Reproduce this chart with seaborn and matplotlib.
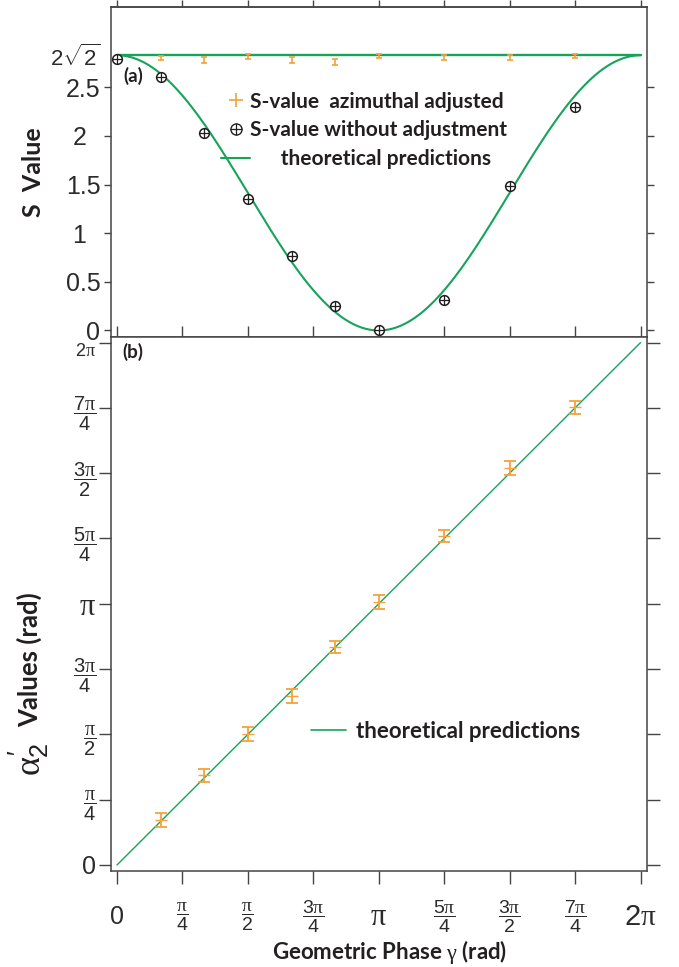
import numpy as np
import pandas as pd
import matplotlib
matplotlib.use("Agg")
import matplotlib.pyplot as plt
import seaborn as sns
from matplotlib.lines import Line2D
from matplotlib.legend_handler import HandlerTuple

# data
gamma_s = np.array([0, 1/6, 1/3, 1/2, 2/3, 5/6, 1, 5/4, 3/2, 7/4]) * np.pi
s_raw = [2.79, 2.61, 2.03, 1.35, 0.77, 0.25, 0.00, 0.31, 1.48, 2.30]

gamma_adj = np.array([1/6, 1/3, 1/2, 2/3, 5/6, 1, 5/4, 3/2, 7/4]) * np.pi
s_adj = [2.80, 2.78, 2.82, 2.78, 2.76, 2.82, 2.81, 2.81, 2.82]
s_adj_err = [0.025, 0.03, 0.025, 0.03, 0.03, 0.02, 0.025, 0.025, 0.02]

alpha_vals = [0.54, 1.08, 1.575, 2.03, 2.62, 3.167, 3.96, 4.77, 5.505]
alpha_err = [0.085, 0.08, 0.085, 0.085, 0.075, 0.085, 0.07, 0.085, 0.075]

s_ticks = [0, 0.5, 1, 1.5, 2, 2.5, 2 * np.sqrt(2)]
s_ticklabels = ["0", "0.5", "1  ", "1.5", "2  ", "2.5", r"$2\sqrt{2}$"]
pi_ticks = np.arange(9) * np.pi / 4
pi_ticklabels = ["0", r"$\dfrac{\pi}{4}$", r"$\dfrac{\pi}{2}$", r"$\dfrac{3\pi}{4}$", r"$\pi$",
                 r"$\dfrac{5\pi}{4}$", r"$\dfrac{3\pi}{2}$", r"$\dfrac{7\pi}{4}$", r"$2\pi$"]

# theory curves
g = np.linspace(0, 2 * np.pi, 400)
theory = pd.DataFrame({"g": g, "S": np.sqrt(2) * (1 + np.cos(g)),
                       "flat": np.full_like(g, 2 * np.sqrt(2)), "alpha": g})

sns.set_theme(style="ticks")
plt.rcParams["font.family"] = ["Liberation Sans", "DejaVu Sans"]
plt.rcParams["mathtext.fontset"] = "custom"
plt.rcParams["mathtext.rm"] = "Liberation Sans"
plt.rcParams["mathtext.it"] = "Liberation Serif"
plt.rcParams["mathtext.bf"] = "Liberation Sans:bold"

green = "#17a35a"
orange = "#f4a23a"
ink = "#231f20"
spine_c = "#444444"
bold = {"family": ["Lato", "DejaVu Sans"], "weight": "bold"}


def size_labels(texts, sizes):
    for t, s in zip(texts, sizes):
        t.set_fontsize(s)


fig = plt.figure(figsize=(6.79, 9.67), dpi=100)
ax1 = fig.add_axes([0.1642, 0.6515, 0.7887, 0.3413])
ax2 = fig.add_axes([0.1642, 0.0993, 0.7887, 0.5522])

# ---- panel (a)
sns.lineplot(data=theory, x="g", y="flat", ax=ax1, color=green, lw=1.7, legend=False)
sns.lineplot(data=theory, x="g", y="S", ax=ax1, color=green, lw=1.5, legend=False)
ax1.errorbar(gamma_adj, s_adj, yerr=s_adj_err, fmt="none", ecolor=orange,
             elinewidth=1.2, capsize=2.5, capthick=1.2, zorder=4)
ax1.plot(gamma_s, s_raw, ls="none", marker="o", ms=7, mfc="white", mec=ink, mew=1.1, zorder=5)
ax1.plot(gamma_s, s_raw, ls="none", marker="+", ms=7, color=ink, mew=0.9, zorder=6)

ax1.set_xlim(-0.066, 2 * np.pi + 0.078)
ax1.set_ylim(-0.067, 3.325)
ax1.set_xticks(pi_ticks)
ax1.set_xticklabels([])
ax1.set_yticks(s_ticks)
ax1.set_yticklabels(s_ticklabels)
ax1.tick_params(axis="x", direction="in", length=8, width=1, color=spine_c)
ax1.tick_params(axis="y", direction="out", length=5, width=1, color=spine_c,
                right=True, labelsize=18, labelcolor="#2b2b2b", pad=3)
ax1.get_yticklabels()[-1].set_fontsize(16)
for side in ("tick1line", "tick2line"):
    getattr(ax1.yaxis.get_major_ticks()[-1], side).set_visible(False)
top = ax1.secondary_xaxis("top")
top.set_xticks(pi_ticks)
top.set_xticklabels([])
top.tick_params(direction="out", length=5, width=1, color=spine_c)
for sp in list(ax1.spines.values()) + list(top.spines.values()):
    sp.set_color(spine_c)
    sp.set_linewidth(1.1)
ax1.set_xlabel("")
ax1.set_ylabel("S  Value", fontsize=18, color=ink, **bold)
ax1.yaxis.set_label_coords(-0.125, 0.5)
ax1.text(0.023, 0.79, "(a)", transform=ax1.transAxes, fontsize=13.5, color=ink,
         va="center", **bold)

h_adj = Line2D([], [], ls="none", marker="+", ms=10, mew=1.2, color=orange)
h_raw = (Line2D([], [], ls="none", marker="o", ms=8, mfc="none", mec=ink, mew=1),
         Line2D([], [], ls="none", marker="+", ms=8, mew=0.9, color=ink))
h_th = Line2D([], [], color=green, lw=1.5)
ax1.legend([h_adj, h_raw, h_th],
           ["S-value  azimuthal adjusted", "S-value without adjustment", "      theoretical predictions"],
           handler_map={tuple: HandlerTuple(ndivide=1)},
           loc="upper left", bbox_to_anchor=(0.17, 0.80), frameon=False,
           prop={"family": ["Lato", "DejaVu Sans"], "weight": "bold", "size": 15},
           labelcolor=ink, handlelength=1.4, handletextpad=0.0, labelspacing=0.42)

# ---- panel (b)
sns.lineplot(data=theory, x="g", y="alpha", ax=ax2, color=green, lw=1.0, legend=False)
ax2.errorbar(gamma_adj, alpha_vals, yerr=alpha_err, fmt="none", ecolor=orange,
             elinewidth=1.3, capsize=4.5, capthick=1.3, zorder=4)
ax2.plot(gamma_adj, alpha_vals, ls="none", marker="_", ms=9, mew=1.0, color=orange, zorder=4)

ax2.set_xlim(-0.066, 2 * np.pi + 0.078)
ax2.set_ylim(-0.072, 2 * np.pi + 0.067)
ax2.set_xticks(pi_ticks)
ax2.set_xticklabels(pi_ticklabels)
ax2.set_yticks(pi_ticks)
ax2.set_yticklabels(pi_ticklabels)
ax2.tick_params(axis="x", direction="out", length=9, width=1, color=spine_c,
                labelcolor="#2b2b2b", pad=24)
ax2.tick_params(axis="y", direction="out", length=9, width=1, color=spine_c, right=True,
                labelcolor="#2b2b2b", pad=2)
size_labels(ax2.get_xticklabels(), [18, 14, 14, 14, 22, 14, 14, 14, 21])
size_labels(ax2.get_yticklabels(), [18, 14.5, 14.5, 14.5, 22, 14.5, 14.5, 14.5, 13])
for t in ax2.get_xticklabels():
    t.set_verticalalignment("center")
ax2.get_yticklabels()[-1].set_verticalalignment("top")
for sp in ax2.spines.values():
    sp.set_color(spine_c)
    sp.set_linewidth(1.1)
ax2.set_xlabel(r"Geometric Phase $\gamma$ (rad)", fontsize=16, color=ink, **bold)
ax2.xaxis.set_label_coords(0.52, -0.125)
ax2.set_ylabel("Values (rad)", fontsize=18.5, color=ink, **bold)
ax2.yaxis.set_label_coords(-0.13, 0.395)
ax2.text(-0.155, 0.21, r"$\alpha_2^{\prime}$", transform=ax2.transAxes, rotation=90,
         fontsize=26, color=ink, ha="center", va="center")
ax2.text(0.021, 0.972, "(b)", transform=ax2.transAxes, fontsize=13.5, color=ink,
         va="center", **bold)
ax2.legend([Line2D([], [], color=green, lw=1.2)], ["theoretical predictions"],
           loc="center left", bbox_to_anchor=(0.335, 0.262), frameon=False,
           prop={"family": ["Lato", "DejaVu Sans"], "weight": "bold", "size": 16},
           labelcolor=ink, handlelength=1.6, handletextpad=0.45)

fig.savefig("out.png", dpi=100)
